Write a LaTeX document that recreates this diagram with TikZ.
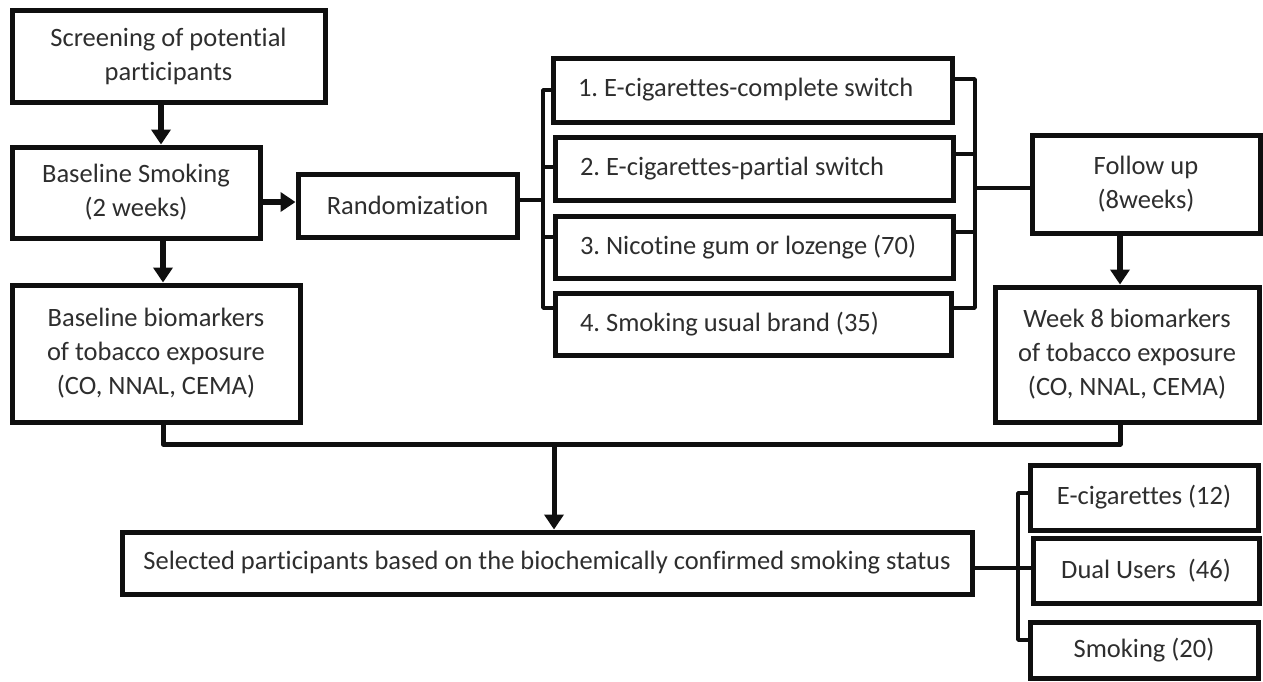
\documentclass[tikz,border=0pt]{standalone}
\usepackage{fontspec}
\setmainfont{Carlito}[Ligatures={NoCommon,NoContextual}]
\usetikzlibrary{arrows.meta}
\begin{document}
\begin{tikzpicture}[x=1pt,y=-1pt,
  box/.style={draw=black!94, line width=5pt, fill=white, align=center, inner sep=0pt,
    font=\fontsize{26.5}{34}\selectfont\frenchspacing, text=black!82},
  gbox/.style={box, align=flush left, inner xsep=25pt, inner ysep=0pt},
  arr/.style={draw=black!94, line width=6pt, -{Triangle[width=19pt,length=15pt]}},
  br/.style={draw=black!94, line width=3.8pt, line join=round},
  coll/.style={draw=black!94, line width=5pt, line join=round}]
\useasboundingbox[fill=white] (0,0) rectangle (1263,681);
% left column
\node[box, minimum width=313pt, minimum height=92pt] (scr) at (168.5,56) {Screening of potential\\participants};
\node[box, minimum width=248pt, minimum height=91pt] (bsm) at (136,192.5) {Baseline Smoking\\(2 weeks)};
\node[box, minimum width=219pt, minimum height=63pt] (ran) at (407.5,205.5) {Randomization};
\node[box, minimum width=288pt, minimum height=137pt] (bbio) at (156,353.5) {Baseline biomarkers\\of tobacco exposure\\(CO, NNAL, CEMA)};
% groups
\node[gbox, text width=349pt, minimum height=64pt] (g1) at (752.5,90) {1. E-cigarettes-complete switch};
\node[gbox, text width=348pt, minimum height=63pt] (g2) at (754,168.5) {2. E-cigarettes-partial switch};
\node[gbox, text width=348pt, minimum height=62pt] (g3) at (754,247) {3. Nicotine gum or lozenge (70)};
\node[gbox, text width=346pt, minimum height=62pt] (g4) at (753,324) {4. Smoking usual brand (35)};
% right column
\node[box, minimum width=228pt, minimum height=98pt] (fol) at (1146,184) {Follow up\\(8weeks)};
\node[box, minimum width=264pt, minimum height=135pt] (wk8) at (1127,354.5) {Week 8 biomarkers\\of tobacco exposure\\(CO, NNAL, CEMA)};
% bottom
\node[box, minimum width=850pt, minimum height=62pt] (sel) at (547,563) {Selected participants based on the biochemically confirmed smoking status};
\node[box, minimum width=228pt, minimum height=65pt] (e1) at (1144,497.5) {E-cigarettes (12)};
\node[box, minimum width=226pt, minimum height=65pt] (e2) at (1146,570.5) {Dual Users~ (46)};
\node[box, minimum width=228pt, minimum height=56pt] (e3) at (1144,650) {Smoking (20)};
% bracket coordinates
\coordinate (lb) at (543,0);
\coordinate (rb) at (975,0);
\coordinate (bb) at (1018,0);
% arrows
\draw[arr] (scr.south -| 161,0) -- (bsm.north -| 161,0);
\draw[arr] (bsm.east |- 0,202) -- (ran.west |- 0,202);
\draw[arr] (bsm.south -| 163,0) -- (bbio.north -| 163,0);
\draw[arr] (fol.south -| 1120,0) -- (wk8.north -| 1120,0);
% left bracket
\draw[br] (ran.east |- 0,200) -- (lb |- 0,200);
\draw[br] (g1.west) -- (lb |- g1.west) -- (lb |- 0,308) -- (g4.west |- 0,308);
\draw[br] (lb |- 0,167) -- (g2.west |- 0,167);
\draw[br] (lb |- 0,237) -- (g3.west |- 0,237);
% right bracket
\draw[br] (g1.east |- 0,79) -- (rb |- 0,79) -- (rb |- 0,308) -- (g4.east |- 0,308);
\draw[br] (g2.east |- 0,154) -- (rb |- 0,154);
\draw[br] (g3.east |- 0,232) -- (rb |- 0,232);
\draw[br] (rb |- 0,188) -- (fol.west |- 0,188);
% collector
\draw[coll] (bbio.south -| 163,0) -- (163,444) -- (1120,444) -- (wk8.south -| 1120,0);
\coordinate (cm) at (554,444);
\draw[arr, line width=5pt] (cm) -- (sel.north -| cm);
% bottom bracket
\draw[br] (sel.east |- 0,568) -- (bb |- 0,568);
\draw[br] (e1.west |- 0,493) -- (bb |- 0,493) -- (bb |- 0,640) -- (e3.west |- 0,640);
\draw[br] (bb |- 0,568) -- (e2.west |- 0,568);
\end{tikzpicture}
\end{document}
